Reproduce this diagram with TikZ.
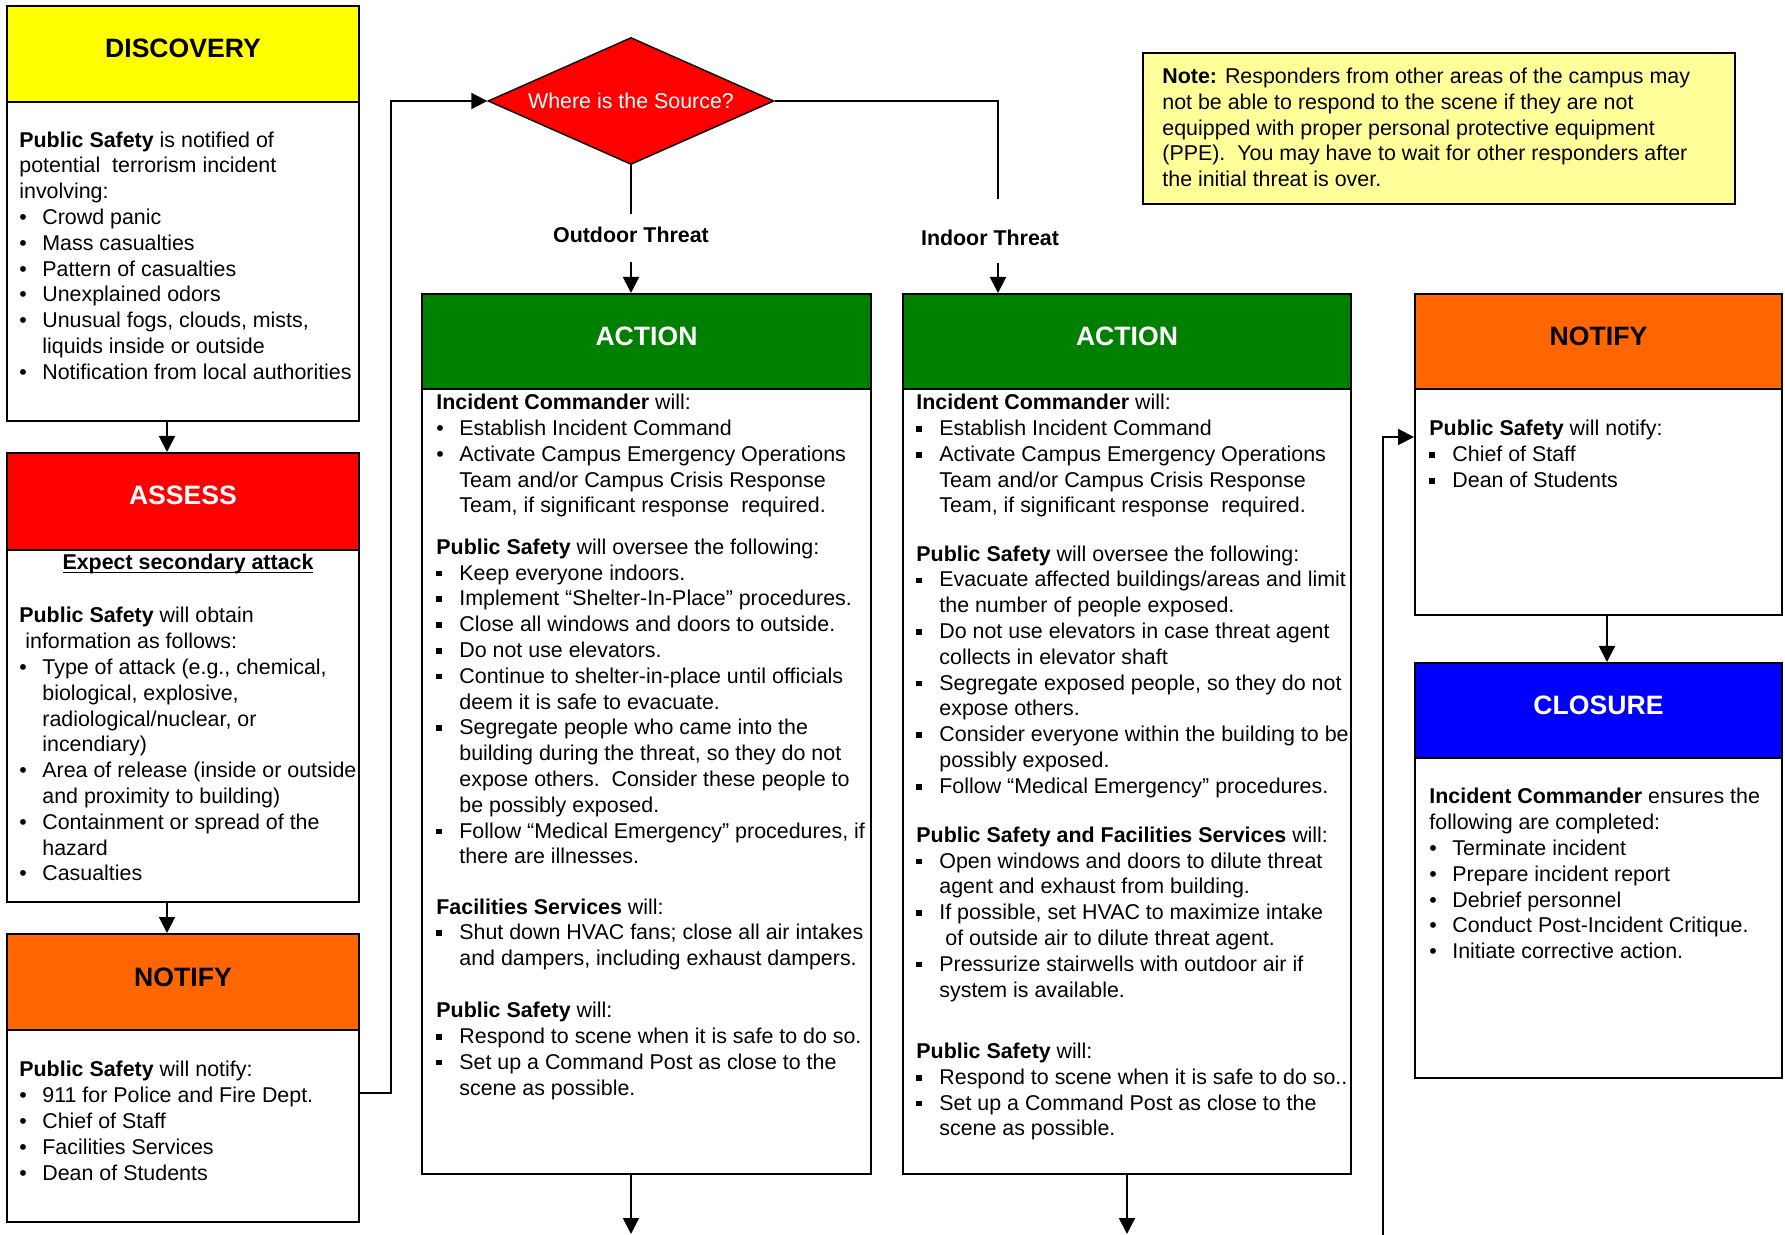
\documentclass[tikz,border=0pt]{standalone}
\usepackage{fontspec}
\setmainfont{Liberation Sans}
\usetikzlibrary{arrows.meta,shapes.geometric}
\definecolor{cyel}{HTML}{FFFF00}
\definecolor{cred}{HTML}{FF0000}
\definecolor{corg}{HTML}{FF6600}
\definecolor{cgrn}{HTML}{008000}
\definecolor{cblu}{HTML}{0000FF}
\definecolor{cnote}{HTML}{FFFF99}
\newcommand\bulr{\makebox[11.5pt][l]{•}}
\newcommand\bulsq{\makebox[11.5pt][l]{\raisebox{1.9pt}{\rule{2.8pt}{2.8pt}}}}
\newcommand\indt{\hspace*{11.5pt}}
\newcommand\myul[1]{\setbox0\hbox{#1}\rlap{\rule[-1.9pt]{\wd0}{0.75pt}}\box0}
\tikzset{
  box/.style={draw, line width=1pt, fill=white, inner sep=0pt},
  hdr/.style={draw, line width=1pt, inner sep=0pt},
  htxt/.style={font=\fontsize{13.3}{15}\selectfont\bfseries, inner sep=0pt, anchor=base},
  body/.style={anchor=north west, inner sep=0pt, align=left, font=\fontsize{10.7}{12.9}\selectfont},
  lbl/.style={font=\fontsize{10.7}{12.9}\selectfont\bfseries, inner sep=0pt, anchor=base},
  arr/.style={line width=1pt, -{Triangle[length=8pt,width=8pt]}},
  ln/.style={line width=1pt},
}
\begin{document}
\begin{tikzpicture}[x=0.5pt,y=-0.5pt]
\useasboundingbox (0,0) rectangle (1785,1235);

% ---------- DISCOVERY ----------
\node[box, minimum width=176pt, minimum height=207.5pt] (disc) at (183,213.5) {};
\node[hdr, fill=cyel, minimum width=176pt, minimum height=48pt] (disch) at (183,54) {};
\node[htxt] (discl) at (183,58) {DISCOVERY};
\node[body] (discb) at (19,128.7) {\strut\textbf{Public Safety} is notified of\\
potential\ \ terrorism incident\\
involving:\\
\bulr Crowd panic\\
\bulr Mass casualties\\
\bulr Pattern of casualties\\
\bulr Unexplained odors\\
\bulr Unusual fogs, clouds, mists,\\
\indt liquids inside or outside\\
\bulr Notification from local authorities};

% ---------- ASSESS ----------
\node[box, minimum width=176pt, minimum height=224.5pt] (assess) at (183,677.5) {};
\node[hdr, fill=cred, minimum width=176pt, minimum height=48.5pt] (assessh) at (183,501.5) {};
\node[htxt, text=white] (assessl) at (183,505) {ASSESS};
\node[lbl] (expect) at (188,569.5) {\myul{Expect secondary attack}};
\node[body] (assessb) at (19,604.4) {\strut\textbf{Public Safety} will obtain\\
\hspace*{3pt}information as follows:\\
\bulr Type of attack (e.g., chemical,\\
\indt biological, explosive,\\
\indt radiological/nuclear, or\\
\indt incendiary)\\
\bulr Area of release (inside or outside\\
\indt and proximity to building)\\
\bulr Containment or spread of the\\
\indt hazard\\
\bulr Casualties};

% ---------- NOTIFY (left) ----------
\node[box, minimum width=176pt, minimum height=144pt] (notl) at (183,1078) {};
\node[hdr, fill=corg, minimum width=176pt, minimum height=48pt] (notlh) at (183,982) {};
\node[htxt] (notll) at (183,986) {NOTIFY};
\node[body] (notlb) at (19,1058.4) {\strut\textbf{Public Safety} will notify:\\
\bulr 911 for Police and Fire Dept.\\
\bulr Chief of Staff\\
\bulr Facilities Services\\
\bulr Dean of Students};

% ---------- Decision ----------
\node[diamond, draw, line width=0.7pt, fill=cred, text=white, inner sep=0pt, aspect=2.25,
      minimum width=143pt, minimum height=63.5pt, font=\fontsize{10.7}{12.9}\selectfont] (src) at (631,101) {Where is the Source?};
\node[lbl] (outl) at (631,243) {Outdoor Threat};
\node[lbl] (inl) at (990,245.5) {Indoor Threat};

% ---------- ACTION 1 ----------
\node[box, minimum width=224.5pt, minimum height=440pt] (act1) at (646.5,734) {};
\node[hdr, fill=cgrn, minimum width=224.5pt, minimum height=47.5pt] (act1h) at (646.5,341.5) {};
\node[htxt, text=white] (act1l) at (646.5,346) {ACTION};
\node[body] (a1ic) at (436,391.3) {\strut\textbf{Incident Commander} will:\\
\bulr Establish Incident Command\\
\bulr Activate Campus Emergency Operations\\
\indt Team and/or Campus Crisis Response\\
\indt Team, if significant response\ \ required.};
\node[body] (a1ps) at (436,535.8) {\strut\textbf{Public Safety} will oversee the following:\\
\bulsq Keep everyone indoors.\\
\bulsq Implement “Shelter-In-Place” procedures.\\
\bulsq Close all windows and doors to outside.\\
\bulsq Do not use elevators.\\
\bulsq Continue to shelter-in-place until officials\\
\indt deem it is safe to evacuate.\\
\bulsq Segregate people who came into the\\
\indt building during the threat, so they do not\\
\indt expose others.\ \ Consider these people to\\
\indt be possibly exposed.\\
\bulsq Follow “Medical Emergency” procedures, if\\
\indt there are illnesses.};
\node[body] (a1fs) at (436,895.6) {\strut\textbf{Facilities Services} will:\\
\bulsq Shut down HVAC fans; close all air intakes\\
\indt and dampers, including exhaust dampers.};
\node[body] (a1ps2) at (436,999.2) {\strut\textbf{Public Safety} will:\\
\bulsq Respond to scene when it is safe to do so.\\
\bulsq Set up a Command Post as close to the\\
\indt scene as possible.};

% ---------- ACTION 2 ----------
\node[box, minimum width=224pt, minimum height=440pt] (act2) at (1127,734) {};
\node[hdr, fill=cgrn, minimum width=224pt, minimum height=47.5pt] (act2h) at (1127,341.5) {};
\node[htxt, text=white] (act2l) at (1127,346) {ACTION};
\node[body] (a2ic) at (916,391.3) {\strut\textbf{Incident Commander} will:\\
\bulsq Establish Incident Command\\
\bulsq Activate Campus Emergency Operations\\
\indt Team and/or Campus Crisis Response\\
\indt Team, if significant response\ \ required.};
\node[body] (a2ps) at (916,542.7) {\strut\textbf{Public Safety} will oversee the following:\\
\bulsq Evacuate affected buildings/areas and limit\\
\indt the number of people exposed.\\
\bulsq Do not use elevators in case threat agent\\
\indt collects in elevator shaft\\
\bulsq Segregate exposed people, so they do not\\
\indt expose others.\\
\bulsq Consider everyone within the building to be\\
\indt possibly exposed.\\
\bulsq Follow “Medical Emergency” procedures.};
\node[body] (a2pf) at (916,823.8) {\strut\textbf{Public Safety and Facilities Services} will:\\
\bulsq Open windows and doors to dilute threat\\
\indt agent and exhaust from building.\\
\bulsq If possible, set HVAC to maximize intake\\
\indt\hspace*{3pt}of outside air to dilute threat agent.\\
\bulsq Pressurize stairwells with outdoor air if\\
\indt system is available.};
\node[body] (a2ps2) at (916,1040.1) {\strut\textbf{Public Safety} will:\\
\bulsq Respond to scene when it is safe to do so..\\
\bulsq Set up a Command Post as close to the\\
\indt scene as possible.};

% ---------- NOTE ----------
\node[draw, line width=1pt, fill=cnote, inner sep=0pt, minimum width=296pt, minimum height=75.5pt] (note) at (1439,128.5) {};
\node[body] (noteb) at (1162,65) {\strut\textbf{Note:} Responders from other areas of the campus may\\
not be able to respond to the scene if they are not\\
equipped with proper personal protective equipment\\
(PPE).\ \ You may have to wait for other responders after\\
the initial threat is over.};

% ---------- NOTIFY (right) ----------
\node[box, minimum width=183.5pt, minimum height=160.5pt] (notr) at (1598.5,454.5) {};
\node[hdr, fill=corg, minimum width=183.5pt, minimum height=47.5pt] (notrh) at (1598.5,341.5) {};
\node[htxt] (notrl) at (1598.5,346) {NOTIFY};
\node[body] (notrb) at (1429,417.4) {\strut\textbf{Public Safety} will notify:\\
\bulsq Chief of Staff\\
\bulsq Dean of Students};

% ---------- CLOSURE ----------
\node[box, minimum width=183.5pt, minimum height=207.5pt] (clos) at (1598.5,870.5) {};
\node[hdr, fill=cblu, minimum width=183.5pt, minimum height=47.5pt] (closh) at (1598.5,710.5) {};
\node[htxt, text=white] (closl) at (1598.5,715) {CLOSURE};
\node[body] (closb) at (1429,785.4) {\strut\textbf{Incident Commander} ensures the\\
following are completed:\\
\bulr Terminate incident\\
\bulr Prepare incident report\\
\bulr Debrief personnel\\
\bulr Conduct Post-Incident Critique.\\
\bulr Initiate corrective action.};

% ---------- connectors ----------
\coordinate (xl) at (167,0);
\draw[arr] (disc.south -| xl) -- (assessh.north -| xl);
\draw[arr] (assess.south -| xl) -- (notlh.north -| xl);

\coordinate (j1) at (391,1093);
\draw[arr] (notl.east |- j1) -- (j1) -- (j1 |- src.west) -- (src.west);

\coordinate (o1) at (631,214);
\coordinate (o2) at (631,262);
\draw[ln] (src.south) -- (o1);
\draw[arr] (o2) -- (act1h.north -| o2);

\coordinate (i0) at (998,101);
\coordinate (i1) at (998,199);
\coordinate (i2) at (998,263);
\draw[ln] (src.east) -- (i0) -- (i1);
\draw[arr] (i2) -- (act2h.north -| i2);

\coordinate (d1) at (631,1234);
\coordinate (d2) at (1127,1234);
\draw[arr] (act1.south -| d1) -- (d1);
\draw[arr] (act2.south) -- (d2);

\coordinate (f0) at (1383,1236);
\coordinate (f1) at (1383,437);
\draw[arr] (f0) -- (f1) -- (notr.west |- f1);

\coordinate (nc) at (1607,0);
\draw[arr] (notr.south -| nc) -- (closh.north -| nc);
\end{tikzpicture}
\end{document}
